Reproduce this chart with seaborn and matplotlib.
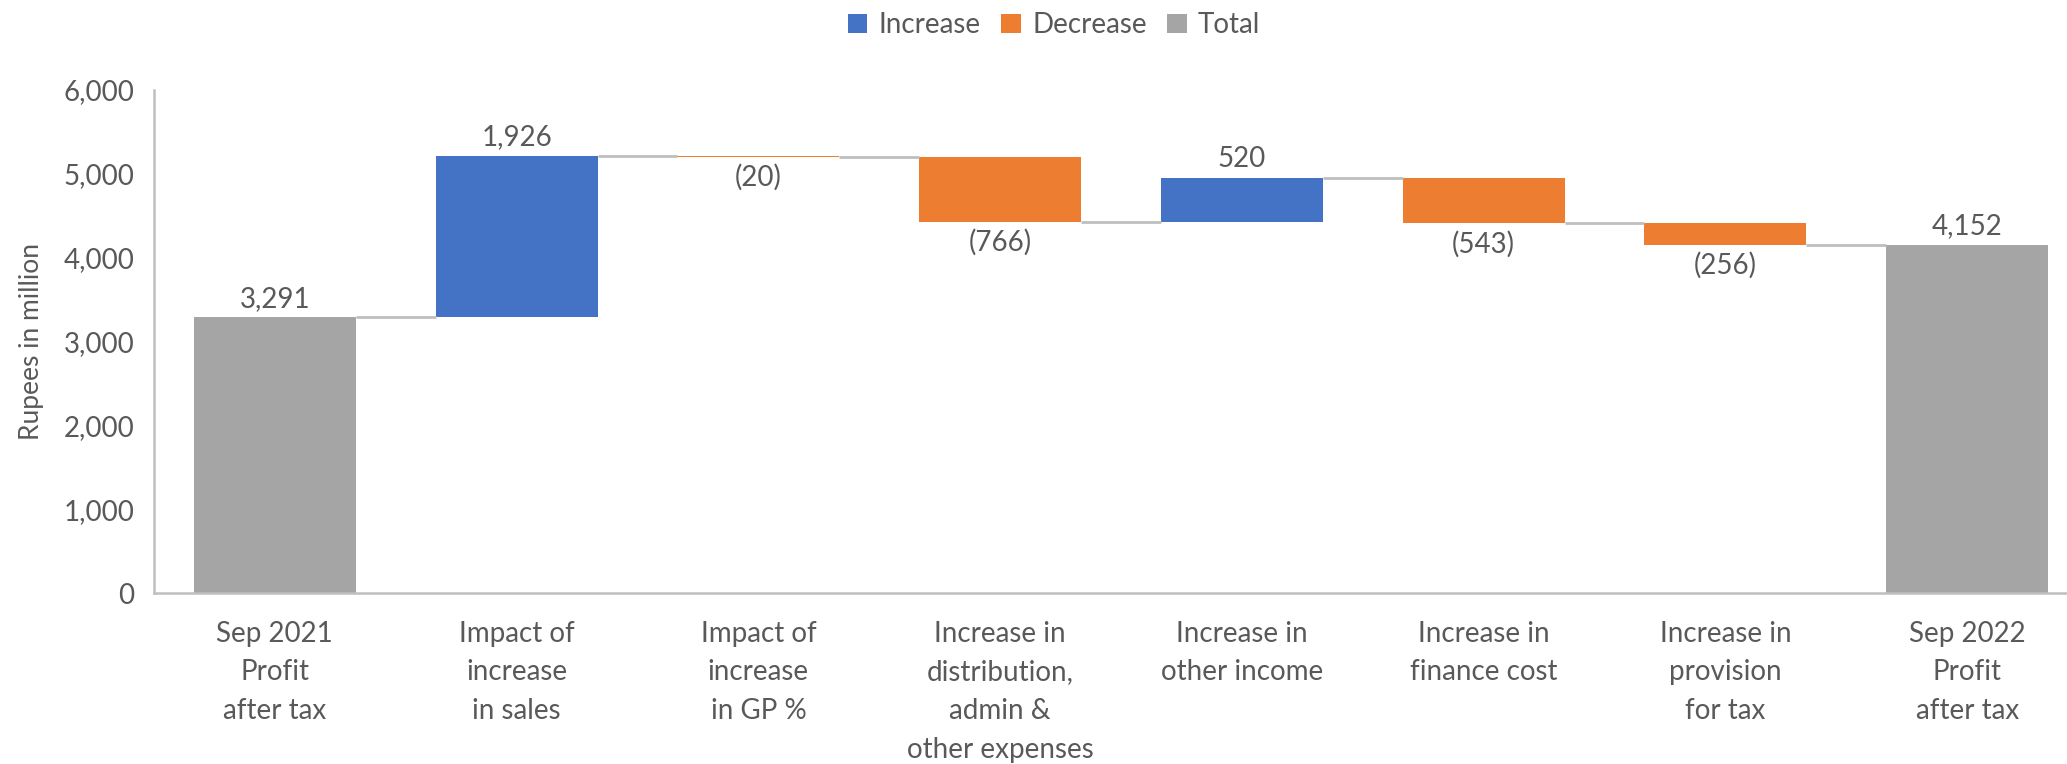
import numpy as np
import pandas as pd
import matplotlib
matplotlib.use("Agg")
import matplotlib.pyplot as plt
from matplotlib.patches import Patch
import seaborn as sns

# Profit bridge: Sep 2021 -> Sep 2022 (Rupees in million)
categories = [
    "Sep 2021\nProfit\nafter tax",
    "Impact of\nincrease\nin sales",
    "Impact of\nincrease\nin GP %",
    "Increase in\ndistribution,\nadmin &\nother expenses",
    "Increase in\nother income",
    "Increase in\nfinance cost",
    "Increase in\nprovision\nfor tax",
    "Sep 2022\nProfit\nafter tax",
]
changes = [3291, 1926, -20, -766, 520, -543, -256, 4152]
kinds = ["Total", "Increase", "Decrease", "Decrease", "Increase", "Decrease", "Decrease", "Total"]
yticks = [0, 1000, 2000, 3000, 4000, 5000, 6000]

palette = {"Increase": "#4472C4", "Decrease": "#ED7D31", "Total": "#A5A5A5"}
text_color = "#595959"
axis_color = "#BFBFBF"

# Running totals give each floating bar its base and top
bottoms, heights, levels = [], [], []
running = 0
for val, kind in zip(changes, kinds):
    if kind == "Total":
        bottoms.append(0)
        heights.append(val)
        running = val
    else:
        lo = running if val >= 0 else running + val
        bottoms.append(lo)
        heights.append(abs(val))
        running += val
    levels.append(running)

df = pd.DataFrame({
    "category": categories,
    "height": heights,
    "bottom": bottoms,
    "kind": kinds,
    "change": changes,
    "pos": np.arange(len(categories)),
})

sns.set_theme(style="white")
plt.rcParams["font.family"] = ["Lato", "DejaVu Sans"]

fig = plt.figure(figsize=(20.67, 7.64), dpi=100)
ax = fig.add_axes([0.0745, 0.2238, 0.9357, 0.6584])

bar_width = 0.67
for kind in ["Increase", "Decrease", "Total"]:
    sub = df[df["kind"] == kind].sort_values("pos")
    sns.barplot(
        data=sub, x="category", y="height", order=categories,
        color=palette[kind], saturation=1, width=bar_width,
        bottom=sub["bottom"].to_numpy(), errorbar=None, ax=ax,
        linewidth=0,
    )

# Connector lines between consecutive bars at the running level
for i in range(len(categories) - 1):
    ax.plot([i + bar_width / 2, i + 1 - bar_width / 2], [levels[i], levels[i]],
            color=axis_color, lw=2, solid_capstyle="butt", zorder=1)

# Value labels: above for rises and totals, below for falls
for i, row in df.iterrows():
    val = row["change"]
    if val >= 0:
        txt = f"{val:,}"
        ax.annotate(txt, (i, row["bottom"] + row["height"]), xytext=(0, 4),
                    textcoords="offset points", ha="center", va="bottom",
                    fontsize=20, color=text_color)
    else:
        txt = f"({abs(val):,})"
        ax.annotate(txt, (i, row["bottom"]), xytext=(0, -5),
                    textcoords="offset points", ha="center", va="top",
                    fontsize=20, color=text_color)

ax.set_xlim(-0.5, len(categories) - 0.5)
ax.set_ylim(0, 6000)
ax.set_yticks(yticks)
ax.set_yticklabels([f"{v:,}" for v in yticks])
ax.set_xlabel("")
ax.set_ylabel("Rupees in million", fontsize=19, color=text_color, labelpad=14)
ax.tick_params(axis="both", length=0, labelsize=20, labelcolor=text_color)
ax.tick_params(axis="y", pad=14)
ax.tick_params(axis="x", pad=20)
for lbl in ax.get_xticklabels():
    lbl.set_linespacing(1.6)

for side in ["top", "right"]:
    ax.spines[side].set_visible(False)
for side in ["left", "bottom"]:
    ax.spines[side].set_color(axis_color)
    ax.spines[side].set_linewidth(1.8)

handles = [Patch(facecolor=palette[k], edgecolor="none", label=k)
           for k in ["Increase", "Decrease", "Total"]]
fig.legend(handles=handles, loc="center", bbox_to_anchor=(0.51, 1 - 25 / 764),
           ncol=3, frameon=False, fontsize=20, handlelength=0.7, handleheight=0.7,
           handletextpad=0.4, columnspacing=0.75, labelcolor=text_color)

fig.savefig("out.png", dpi=100, facecolor="white")
